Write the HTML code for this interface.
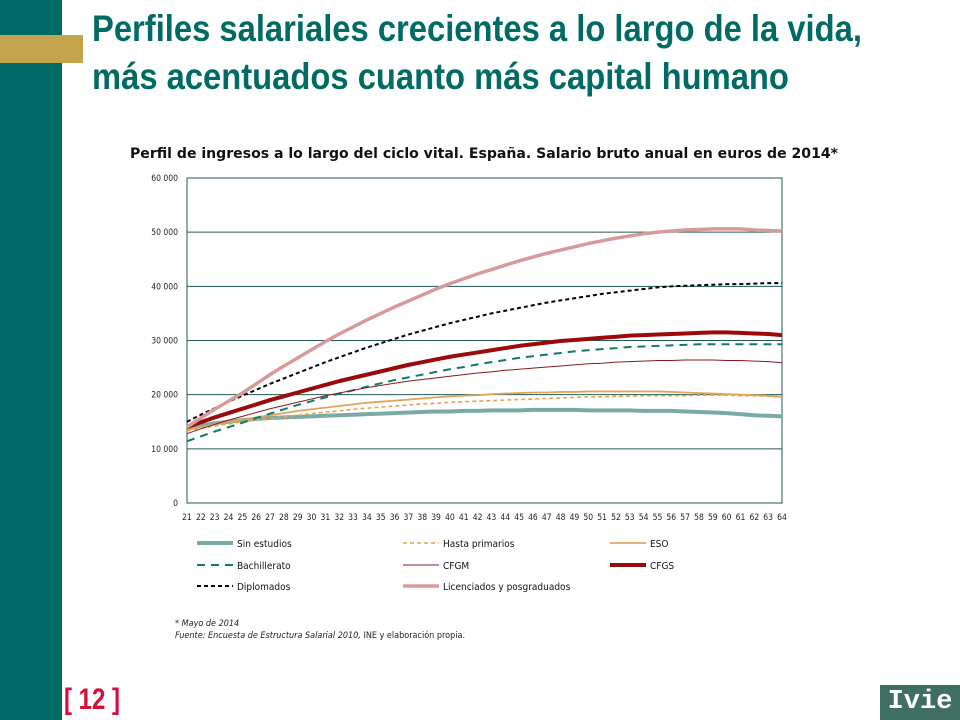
<!DOCTYPE html>
<html><head><meta charset="utf-8">
<style>
body{margin:0;width:960px;height:720px;overflow:hidden;background:#fff;font-family:"Liberation Sans",sans-serif;position:relative}
.abs{position:absolute}
</style></head>
<body>
<div class="abs" style="left:0;top:0;width:62px;height:720px;background:#006b66"></div>
<div class="abs" style="left:0;top:35px;width:83px;height:28px;background:#c5a44e"></div>
<div class="abs" style="left:92px;top:5px;width:1000px;font-weight:bold;font-size:37px;line-height:48px;color:#006b63;transform:scaleX(0.885);transform-origin:left top;white-space:nowrap">Perfiles salariales crecientes a lo largo de la vida,<br>más acentuados cuanto más capital humano</div>
<div class="abs" style="left:64px;top:683px;font-weight:bold;font-size:30px;color:#d0103a;transform:scaleX(0.8);transform-origin:left top">[ 12 ]</div>
<div class="abs" style="left:880px;top:685px;width:80px;height:35px;background:#3f6f62;color:#fff;font-family:'Liberation Mono',monospace;font-weight:bold;font-size:27px;line-height:35px;text-align:center">Ivie</div>
<svg class="abs" style="left:0;top:0" width="960" height="720" id="chart">
<text x="484" y="158" text-anchor="middle" font-family="DejaVu Sans, sans-serif" font-weight="bold" font-size="14" fill="#111" textLength="708" lengthAdjust="spacingAndGlyphs">Perfil de ingresos a lo largo del ciclo vital. España. Salario bruto anual en euros de 2014*</text>
<g id="grid"></g><g id="lines"></g><g id="legend"></g>
<text x="175" y="626" font-family="DejaVu Sans Condensed, DejaVu Sans, sans-serif" font-style="italic" font-size="9" fill="#222">* Mayo de 2014</text>
<text x="175" y="638" font-family="DejaVu Sans Condensed, DejaVu Sans, sans-serif" font-size="9" fill="#222"><tspan font-style="italic">Fuente: Encuesta de Estructura Salarial 2010,</tspan> INE y elaboración propia.</text>
</svg>
<script>
const ages=[];for(let a=21;a<=64;a++)ages.push(a);
const yTicks=[0,10000,20000,30000,40000,50000,60000];
const yTickLabels=["0","10 000","20 000","30 000","40 000","50 000","60 000"];
const sinEstudios=[13800,14300,14700,15000,15300,15500,15700,15800,15900,16000,16100,16200,16300,16400,16500,16600,16700,16800,16900,16900,17000,17000,17100,17100,17100,17200,17200,17200,17200,17100,17100,17100,17100,17000,17000,17000,16900,16800,16700,16600,16400,16200,16100,16000];
const hastaPrimarios=[13300,13800,14200,14600,15000,15300,15600,15900,16200,16500,16800,17000,17300,17500,17700,17900,18100,18300,18400,18600,18700,18800,18900,19000,19100,19200,19300,19400,19500,19600,19600,19700,19700,19800,19800,19800,19800,19900,19900,19900,19800,19800,19700,19600];
const eso=[13500,14000,14500,15000,15400,15800,16200,16600,17000,17300,17600,17900,18200,18500,18700,18900,19100,19300,19500,19700,19800,19900,20100,20200,20300,20400,20400,20500,20500,20600,20600,20600,20600,20600,20600,20500,20400,20300,20200,20100,20000,19900,19800,19600];
const bachillerato=[11400,12300,13200,14000,14800,15700,16500,17300,18100,18800,19500,20200,20800,21500,22100,22700,23200,23700,24200,24700,25100,25600,26000,26400,26800,27100,27400,27700,28000,28200,28400,28600,28800,28900,29000,29100,29200,29300,29300,29300,29300,29300,29300,29300];
const cfgm=[12800,13700,14500,15300,16000,16700,17400,18000,18600,19200,19800,20300,20800,21300,21700,22100,22500,22800,23100,23400,23700,24000,24200,24500,24700,24900,25100,25300,25500,25700,25800,26000,26100,26200,26300,26300,26400,26400,26400,26300,26300,26200,26100,25900];
const cfgs=[14000,14900,15800,16600,17400,18200,19000,19700,20400,21100,21800,22500,23100,23700,24300,24900,25500,26000,26500,27000,27400,27800,28200,28600,29000,29300,29600,29900,30100,30300,30500,30700,30900,31000,31100,31200,31300,31400,31500,31500,31400,31300,31200,31000];
const diplomados=[15000,16300,17500,18700,19800,20900,22000,23000,24000,25000,26000,26900,27800,28700,29500,30300,31100,31800,32500,33200,33800,34400,35000,35500,36000,36500,37000,37400,37800,38200,38600,38900,39200,39500,39800,40000,40100,40200,40300,40400,40400,40500,40600,40600];
const licenciados=[14000,15700,17300,18800,20300,22000,23700,25300,26800,28300,29800,31200,32500,33800,35000,36200,37300,38400,39500,40500,41400,42300,43100,43900,44700,45400,46100,46700,47300,47900,48400,48900,49300,49700,50000,50200,50400,50500,50600,50600,50600,50400,50300,50200];
const seriesNames=["Sin estudios","Hasta primarios","ESO","Bachillerato","CFGM","CFGS","Diplomados","Licenciados y posgraduados"];
const seriesData=[sinEstudios,hastaPrimarios,eso,bachillerato,cfgm,cfgs,diplomados,licenciados];
const styles=[
 {c:"#79aaa6",w:4,d:""},{c:"#e3a45a",w:1.6,d:"4,3"},{c:"#e3a45a",w:1.8,d:""},
 {c:"#117a70",w:2,d:"8,6"},{c:"#8b1a1a",w:1,d:""},{c:"#9b0a0a",w:4,d:""},
 {c:"#000",w:2,d:"4,3"},{c:"#d79a9a",w:3.5,d:""}];
const X0=187,X1=782,Y0=503,Y1=178;
const xS=a=>X0+(a-ages[0])/(ages[ages.length-1]-ages[0])*(X1-X0);
const yS=v=>Y0-v/60000*(Y0-Y1);
const NS="http://www.w3.org/2000/svg";
function mk(tag,at,parent){const e=document.createElementNS(NS,tag);for(const k in at)e.setAttribute(k,at[k]);parent.appendChild(e);return e;}
const grid=document.getElementById('grid');
yTicks.forEach((t,i)=>{
 const l=mk('line',{x1:X0,x2:X1,y1:yS(t),y2:yS(t),stroke:"#1e5a55","stroke-width":1},grid);
 
 
 const tx=mk('text',{x:178,y:yS(t)+3,"text-anchor":"end","font-size":"8.5","font-family":"DejaVu Sans Condensed, DejaVu Sans, sans-serif",fill:"#222"},grid);
 tx.textContent=yTickLabels[i];
 
 
});
const fr=mk('rect',{x:X0,y:Y1,width:X1-X0,height:Y0-Y1,fill:"none",stroke:"#1e5a55","stroke-width":1},grid);


ages.forEach(a=>{
 const tx=mk('text',{x:xS(a),y:520,"text-anchor":"middle","font-size":"8.5","font-family":"DejaVu Sans Condensed, DejaVu Sans, sans-serif",fill:"#222"},grid);
 tx.textContent=a;
 
 
});
const lines=document.getElementById('lines');
seriesData.forEach((s,i)=>{
 const st=styles[i];
 const p=mk('polyline',{points:s.map((v,j)=>xS(ages[j])+","+yS(v)).join(" "),fill:"none",stroke:st.c,"stroke-width":st.w,"stroke-dasharray":st.d,"stroke-linejoin":"round"},lines);
 
 
});
const lg=document.getElementById('legend');
const colX=[197,403,610],rowY=[543,565,586];
seriesNames.forEach((n,i)=>{
 const cx=colX[i%3],cy=rowY[Math.floor(i/3)],st=styles[i];
 const g=mk('g',{},lg);
 
 
 mk('line',{x1:cx,x2:cx+36,y1:cy,y2:cy,stroke:st.c,"stroke-width":st.w,"stroke-dasharray":st.d},g);
 const t=mk('text',{x:cx+40,y:cy+4,"font-size":"10","font-family":"DejaVu Sans Condensed, DejaVu Sans, sans-serif",fill:"#111"},g);
 t.textContent=n;
});
</script>
</body></html>
